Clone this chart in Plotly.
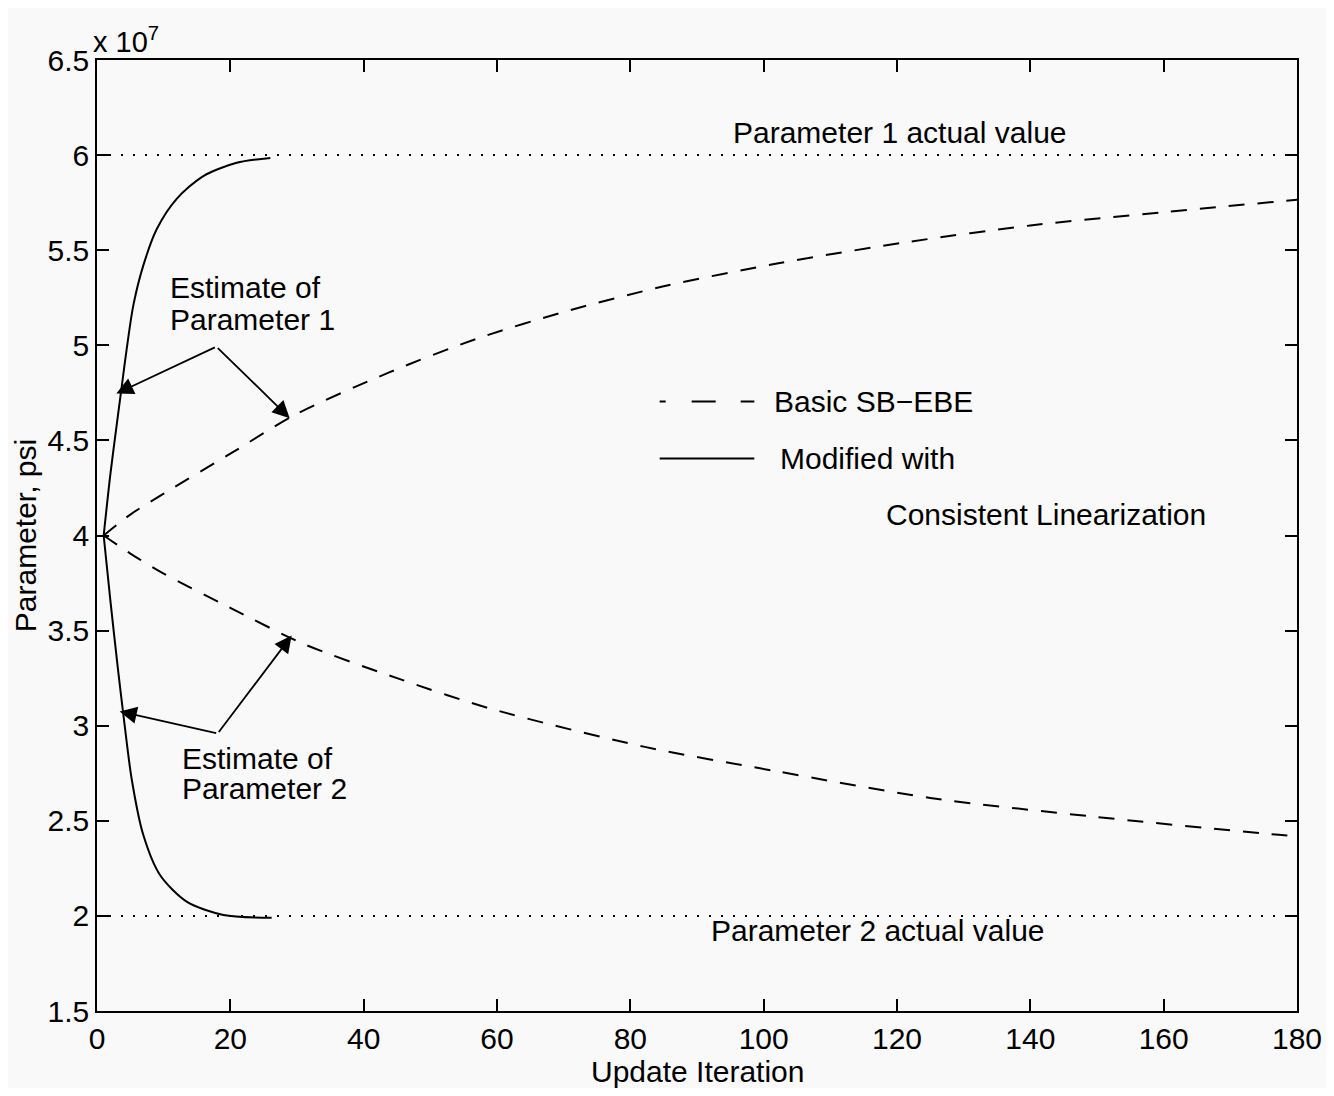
import plotly.graph_objects as go

# Values in units of 1e7 psi
basic_p1_x = [1, 5, 10, 20, 30, 44, 57, 71, 85, 102, 122, 140, 160, 180]
basic_p1_y = [4.0, 4.11, 4.22, 4.43, 4.64, 4.86, 5.035, 5.185, 5.31, 5.43, 5.545, 5.63, 5.70, 5.765]

basic_p2_x = [1, 5, 10, 20, 31, 45, 59, 82, 102, 125, 150, 176, 180]
basic_p2_y = [4.0, 3.905, 3.80, 3.62, 3.43, 3.25, 3.09, 2.89, 2.76, 2.62, 2.52, 2.43, 2.42]

mod_p1_x = [1, 2.0, 2.95, 3.7, 4.45, 5.45, 6.95, 8.95, 11.95, 15.95, 20.95, 26]
mod_p1_y = [4.0, 4.32, 4.58, 4.78, 4.98, 5.21, 5.42, 5.61, 5.77, 5.89, 5.96, 5.985]

mod_p2_x = [1, 2.0, 3.2, 3.95, 5.2, 6.95, 9.45, 13.45, 18.95, 26.2]
mod_p2_y = [4.0, 3.66, 3.28, 3.06, 2.72, 2.425, 2.215, 2.075, 2.005, 1.99]

actual_x = [0, 180]
actual_p1 = [6.0, 6.0]
actual_p2 = [2.0, 2.0]

x_ticks = [0, 20, 40, 60, 80, 100, 120, 140, 160, 180]
y_ticks = [1.5, 2, 2.5, 3, 3.5, 4, 4.5, 5, 5.5, 6, 6.5]
y_tick_labels = ["1.5", "2", "2.5", "3", "3.5", "4", "4.5", "5", "5.5", "6", "6.5"]

FONT = "Liberation Sans, Arial, Helvetica, sans-serif"
DASH = "16px,13px"
DOT = "2px,10px"
BG = "#f9f9f9"

fig = go.Figure()

for xs, ys in [(actual_x, actual_p1), (actual_x, actual_p2)]:
    fig.add_trace(go.Scatter(x=xs, y=ys, mode="lines",
                             line=dict(color="black", width=2, dash=DOT),
                             showlegend=False, hoverinfo="skip"))

for xs, ys in [(basic_p1_x, basic_p1_y), (basic_p2_x, basic_p2_y)]:
    fig.add_trace(go.Scatter(x=xs, y=ys, mode="lines",
                             line=dict(color="black", width=2, dash=DASH, shape="spline", smoothing=0.8),
                             showlegend=False))

for xs, ys in [(mod_p1_x, mod_p1_y), (mod_p2_x, mod_p2_y)]:
    fig.add_trace(go.Scatter(x=xs, y=ys, mode="lines",
                             line=dict(color="black", width=2, shape="spline", smoothing=0.8),
                             showlegend=False))

# Legend drawn manually (sample lines)
fig.add_trace(go.Scatter(x=[84.4, 98.6], y=[4.704, 4.704], mode="lines",
                         line=dict(color="black", width=2, dash="6px,26px,24px,25px,14px"),
                         showlegend=False, hoverinfo="skip"))
fig.add_trace(go.Scatter(x=[84.4, 98.6], y=[4.405, 4.405], mode="lines",
                         line=dict(color="black", width=2),
                         showlegend=False, hoverinfo="skip"))

ann_font = dict(family=FONT, size=30, color="black")
annotations = [
    dict(x=101.2, y=4.704, text="Basic SB\u2212EBE", xanchor="left", yanchor="middle"),
    dict(x=102.2, y=4.405, text="Modified with", xanchor="left", yanchor="middle"),
    dict(x=118.1, y=4.11, text="Consistent Linearization", xanchor="left", yanchor="middle"),
    dict(x=120.4, y=6.118, text="Parameter 1 actual value", xanchor="center", yanchor="middle"),
    dict(x=117.2, y=1.924, text="Parameter 2 actual value", xanchor="center", yanchor="middle"),
    dict(x=10.7, y=5.305, text="Estimate of", xanchor="left", yanchor="middle"),
    dict(x=10.7, y=5.137, text="Parameter 1", xanchor="left", yanchor="middle"),
    dict(x=12.4, y=2.827, text="Estimate of", xanchor="left", yanchor="middle"),
    dict(x=12.4, y=2.670, text="Parameter 2", xanchor="left", yanchor="middle"),
]
for a in annotations:
    a.update(xref="x", yref="y", showarrow=False, font=ann_font)

arrows = [
    ((17.9, 4.993), (2.9, 4.746)),
    ((17.9, 4.993), (28.9, 4.617)),
    ((18.1, 2.959), (3.4, 3.075)),
    ((18.1, 2.959), (29.2, 3.474)),
]
for (vx, vy), (tx, ty) in arrows:
    annotations.append(dict(x=tx, y=ty, ax=vx, ay=vy, xref="x", yref="y", axref="x", ayref="y",
                            text="", showarrow=True, arrowhead=2, arrowsize=1.9, arrowwidth=1.8,
                            arrowcolor="black", standoff=0))

annotations.append(dict(x=0, y=1, xref="paper", yref="paper", xanchor="left", yanchor="bottom",
                        text="x 10<sup>7</sup>", showarrow=False, yshift=0, xshift=-6,
                        font=dict(family=FONT, size=29, color="black")))

# x-axis title placed as a paper annotation for exact position
annotations.append(dict(x=0.5, y=-0.0631, xref="paper", yref="paper", xanchor="center", yanchor="middle",
                        text="Update Iteration", showarrow=False,
                        font=dict(family=FONT, size=30, color="black")))

axis_common = dict(showgrid=False, zeroline=False, showline=True, linecolor="black", linewidth=1.5,
                   mirror="ticks", ticks="inside", ticklen=12, tickwidth=1.5, tickcolor="black",
                   automargin=False,
                   tickfont=dict(family=FONT, size=30, color="black"))

fig.update_layout(
    width=1318, height=1080,
    margin=dict(l=89, r=29, t=52, b=77),
    paper_bgcolor=BG, plot_bgcolor=BG,
    showlegend=False,
    annotations=annotations,
    xaxis=dict(range=[0, 180], tickvals=x_ticks, ticklabelstandoff=0, **axis_common),
    yaxis=dict(range=[1.5, 6.5], tickvals=y_ticks, ticktext=y_tick_labels,
               title=dict(text="Parameter, psi", font=dict(family=FONT, size=30, color="black"), standoff=2),
               **axis_common),
)

fig.write_html("out.html")
